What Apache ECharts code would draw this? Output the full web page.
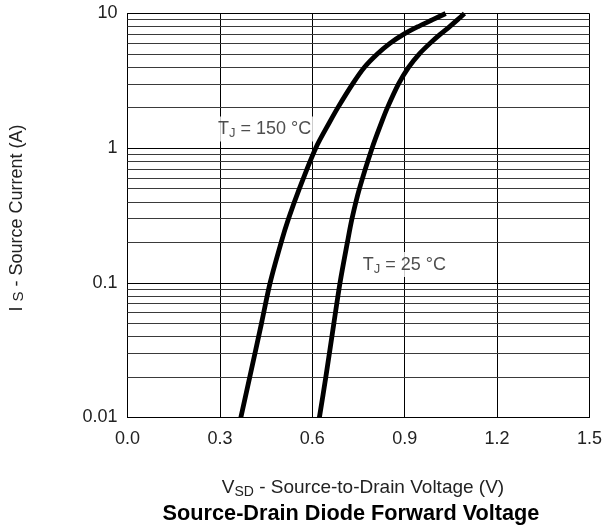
<!DOCTYPE html>
<html>
<head>
<meta charset="utf-8">
<script src="https://cdn.jsdelivr.net/npm/echarts@6/dist/echarts.min.js"></script>
<style>
  html, body { margin: 0; padding: 0; background: #fff; }
  #chart { width: 605px; height: 525px; }
</style>
</head>
<body>
<div id="chart"></div>
<script>
// Forward voltage (V) vs. source current (A) for each junction temperature
const curve150 = [
  [0.368, 0.01], [0.397, 0.02], [0.435, 0.05], [0.463, 0.1], [0.499, 0.2],
  [0.523, 0.3], [0.558, 0.5], [0.611, 1], [0.659, 1.6], [0.683, 2],
  [0.731, 3], [0.770, 4], [0.811, 5], [0.852, 6], [0.896, 7],
  [0.944, 8], [0.991, 9], [1.033, 10]
];
const curve25 = [
  [0.623, 0.01], [0.644, 0.02], [0.670, 0.05], [0.690, 0.1], [0.714, 0.2],
  [0.729, 0.3], [0.753, 0.5], [0.794, 1], [0.827, 1.6], [0.844, 2],
  [0.880, 3], [0.913, 4], [0.947, 5], [0.982, 6], [1.015, 7],
  [1.046, 8], [1.072, 9], [1.094, 10]
];

// Minor log gridlines (2..9 within each decade)
const minorGrid = [
  0.02, 0.03, 0.04, 0.05, 0.06, 0.07, 0.08, 0.09,
  0.2, 0.3, 0.4, 0.5, 0.6, 0.7, 0.8, 0.9,
  2, 3, 4, 5, 6, 7, 8, 9
];

// Curve annotations: [x, y, temperature]
const labelPoints = [
  [0.445, 1.39, '150'],
  [0.899, 0.137, '25']
];

const xTicks = { min: 0, max: 1.5, interval: 0.3 };
const yRange = { min: 0.01, max: 10 };

const FONT = '"Liberation Sans", Arial, Helvetica, sans-serif';
const TEXT = '#222';

const chart = echarts.init(document.getElementById('chart'), null, { renderer: 'canvas' });

chart.setOption({
  backgroundColor: '#fff',
  animation: false,
  title: [
    {
      text: '{n|V}{s|SD}{n| - Source-to-Drain Voltage (V)}',
      left: 358, top: 471, textAlign: 'center',
      textStyle: {
        fontWeight: 'normal',
        rich: {
          n: { fontSize: 19, color: TEXT, fontFamily: FONT, fontWeight: 'normal' },
          s: { fontSize: 14, color: TEXT, fontFamily: FONT, fontWeight: 'normal', padding: [9, 0, 0, 0] }
        }
      }
    },
    {
      text: 'Source-Drain Diode Forward Voltage',
      left: 346, top: 498, textAlign: 'center',
      textStyle: { fontSize: 21.7, fontWeight: 'bold', color: '#000', fontFamily: FONT }
    }
  ],
  graphic: [
    {
      type: 'text',
      x: 17, y: 218,
      rotation: Math.PI / 2,
      style: {
        text: '{n|I }{s|S}{n| - Source Current (A)}',
        align: 'center', verticalAlign: 'middle',
        rich: {
          n: { fontSize: 18, fill: TEXT, fontFamily: FONT },
          s: { fontSize: 15, fill: TEXT, fontFamily: FONT, padding: [4, 0, 0, 0] }
        }
      }
    }
  ],
  grid: { left: 127.5, right: 14, top: 13.5, bottom: 107.5, show: false },
  xAxis: {
    type: 'value',
    min: xTicks.min, max: xTicks.max, interval: xTicks.interval,
    axisLine: { show: true, onZero: false, lineStyle: { color: '#000', width: 1 } },
    axisTick: { show: false },
    axisLabel: {
      color: TEXT, fontSize: 18, fontFamily: FONT, margin: 13,
      formatter: v => v.toFixed(1)
    },
    splitLine: { show: true, lineStyle: { color: '#000', width: 1 } }
  },
  yAxis: {
    type: 'log',
    logBase: 10,
    min: yRange.min, max: yRange.max,
    axisLine: { show: true, lineStyle: { color: '#000', width: 1 } },
    axisTick: { show: false },
    axisLabel: {
      color: TEXT, fontSize: 18, fontFamily: FONT, margin: 10,
      formatter: v => String(+v.toPrecision(3))
    },
    splitLine: { show: true, lineStyle: { color: '#000', width: 1 } }
  },
  series: [
    {
      name: 'grid-minor',
      type: 'line',
      data: [],
      silent: true,
      markLine: {
        silent: true,
        symbol: ['none', 'none'],
        label: { show: false },
        lineStyle: { color: '#3a3a3a', width: 1, type: 'solid' },
        emphasis: { disabled: true },
        data: minorGrid.map(v => ({ yAxis: v }))
      }
    },
    {
      name: 'TJ = 150 °C',
      type: 'line',
      data: curve150,
      smooth: 0.3,
      showSymbol: false,
      lineStyle: { color: '#000', width: 4.8, cap: 'butt' },
      z: 5
    },
    {
      name: 'TJ = 25 °C',
      type: 'line',
      data: curve25,
      smooth: 0.3,
      showSymbol: false,
      lineStyle: { color: '#000', width: 4.8, cap: 'butt' },
      z: 5
    },
    {
      name: 'labels',
      type: 'scatter',
      symbolSize: 0,
      silent: true,
      data: labelPoints.map(p => ({ value: [p[0], p[1]], t: p[2] })),
      label: {
        show: true,
        position: 'inside',
        formatter: p => '{n|T}{s|J}{n| = ' + p.data.t + ' °C}',
        backgroundColor: '#fff',
        padding: [2, 3, 1, 3],
        rich: {
          n: { fontSize: 18, color: TEXT, fontFamily: FONT },
          s: { fontSize: 13, color: TEXT, fontFamily: FONT, padding: [9, 0, 0, 0] }
        }
      },
      z: 6
    }
  ]
});
</script>
</body>
</html>
